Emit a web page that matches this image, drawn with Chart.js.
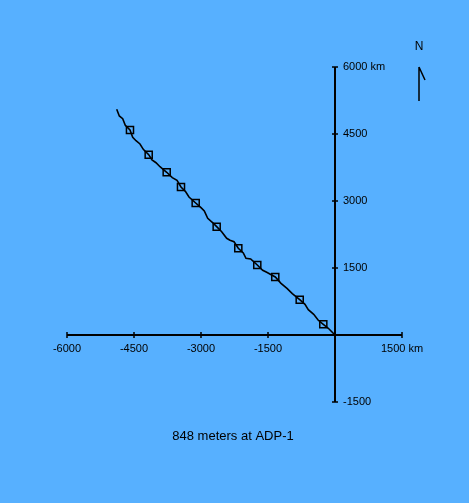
<!DOCTYPE html>
<html>
<head>
<meta charset="utf-8">
<title>848 meters at ADP-1</title>
<script src="https://cdn.jsdelivr.net/npm/chart.js@4/dist/chart.umd.min.js"></script>
<style>
  html, body { margin: 0; padding: 0; background: #57b0ff; }
  #wrap { width: 469px; height: 503px; }
</style>
</head>
<body>
<div id="wrap"><canvas id="plot" width="469" height="503"></canvas></div>
<script>
// --- data (km east / km north) ---
const trackX = [-4887, -4829, -4753, -4695, -4590, -4529, -4455, -4366, -4292, -4171, -4097, -4007, -3918, -3873, -3768, -3643, -3537, -3448, -3343, -3269, -3119, -3000, -2926, -2850, -2747, -2649, -2537, -2425, -2351, -2261, -2165, -2053, -1993, -1888, -1740, -1619, -1529, -1337, -1209, -1075, -956, -790, -672, -598, -477, -374, -262, -150, 0];
const trackY = [5053, 4903, 4843, 4695, 4590, 4426, 4350, 4276, 4157, 4037, 3918, 3857, 3768, 3732, 3643, 3522, 3463, 3313, 3208, 3090, 2955, 2850, 2776, 2613, 2523, 2425, 2313, 2165, 2120, 2089, 1941, 1836, 1717, 1701, 1567, 1448, 1404, 1299, 1157, 1045, 925, 790, 687, 566, 463, 329, 240, 150, 0];

const markX = [-4590, -4171, -3768, -3448, -3119, -2649, -2165, -1740, -1337, -790, -262];
const markY = [4590, 4037, 3643, 3313, 2955, 2425, 1941, 1567, 1299, 790, 240];

const xTicks = [-6000, -4500, -3000, -1500, 1500];
const yTicks = [6000, 4500, 3000, 1500, -1500];
const xMin = -6000, xMax = 1500;
const yMin = -1500, yMax = 6000;
const unit = ' km';
const caption = '848 meters at ADP-1';

const FONT = '"Liberation Sans", Arial, sans-serif';

// axes crossing at the origin, drawn from the chart's own scales
const crossAxes = {
  id: 'crossAxes',
  afterDatasetsDraw(chart) {
    const ctx = chart.ctx;
    const sx = chart.scales.x, sy = chart.scales.y;
    const x0 = sx.getPixelForValue(0), y0 = sy.getPixelForValue(0);
    ctx.save();
    ctx.strokeStyle = '#000';
    ctx.fillStyle = '#000';

    // axis lines
    ctx.lineWidth = 2;
    ctx.beginPath();
    ctx.moveTo(sx.getPixelForValue(xMin), y0);
    ctx.lineTo(sx.getPixelForValue(xMax), y0);
    ctx.moveTo(x0, sy.getPixelForValue(yMax));
    ctx.lineTo(x0, sy.getPixelForValue(yMin));
    ctx.stroke();

    // ticks
    ctx.lineWidth = 1.5;
    ctx.beginPath();
    xTicks.forEach(v => {
      const px = Math.round(sx.getPixelForValue(v));
      ctx.moveTo(px, y0 - 3);
      ctx.lineTo(px, y0 + 3);
    });
    yTicks.forEach(v => {
      const py = Math.round(sy.getPixelForValue(v));
      ctx.moveTo(x0 - 3, py);
      ctx.lineTo(x0 + 3, py);
    });
    ctx.stroke();

    // tick labels
    ctx.font = '11px ' + FONT;
    ctx.textAlign = 'center';
    ctx.textBaseline = 'middle';
    xTicks.forEach(v => {
      const txt = v === xMax ? v + unit : String(v);
      ctx.fillText(txt, sx.getPixelForValue(v), y0 + 14);
    });
    ctx.textAlign = 'left';
    yTicks.forEach(v => {
      const txt = v === yMax ? v + unit : String(v);
      ctx.fillText(txt, x0 + 8, sy.getPixelForValue(v));
    });

    // caption
    ctx.font = '13px ' + FONT;
    ctx.textAlign = 'center';
    ctx.fillText(caption, 233, 436);

    // north arrow
    ctx.font = '12px ' + FONT;
    ctx.fillText('N', 419, 47);
    ctx.lineWidth = 1.5;
    ctx.beginPath();
    ctx.moveTo(419, 67);
    ctx.lineTo(419, 101);
    ctx.moveTo(419, 67);
    ctx.lineTo(425, 80);
    ctx.stroke();

    ctx.restore();
  }
};

const canvasBg = {
  id: 'canvasBg',
  beforeDraw(chart) {
    const ctx = chart.ctx;
    ctx.save();
    ctx.fillStyle = '#57b0ff';
    ctx.fillRect(0, 0, chart.width, chart.height);
    ctx.restore();
  }
};

new Chart(document.getElementById('plot').getContext('2d'), {
  type: 'scatter',
  data: {
    datasets: [
      {
        label: 'track',
        data: trackX.map((x, i) => ({ x: x, y: trackY[i] })),
        showLine: true,
        borderColor: '#000',
        borderWidth: 1.6,
        pointRadius: 0,
        fill: false,
        tension: 0
      },
      {
        label: 'marks',
        data: markX.map((x, i) => ({ x: x, y: markY[i] })),
        showLine: false,
        pointStyle: 'rect',
        pointRadius: 5,
        pointBorderColor: '#000',
        pointBackgroundColor: 'rgba(0,0,0,0)',
        pointBorderWidth: 1.5
      }
    ]
  },
  options: {
    responsive: false,
    animation: false,
    devicePixelRatio: 1,
    layout: { padding: { left: 67, top: 67, right: 67, bottom: 101 } },
    plugins: {
      legend: { display: false },
      tooltip: { enabled: false },
      title: { display: false }
    },
    scales: {
      x: { type: 'linear', min: xMin, max: xMax, display: false },
      y: { type: 'linear', min: yMin, max: yMax, display: false }
    }
  },
  plugins: [canvasBg, crossAxes]
});
</script>
</body>
</html>
